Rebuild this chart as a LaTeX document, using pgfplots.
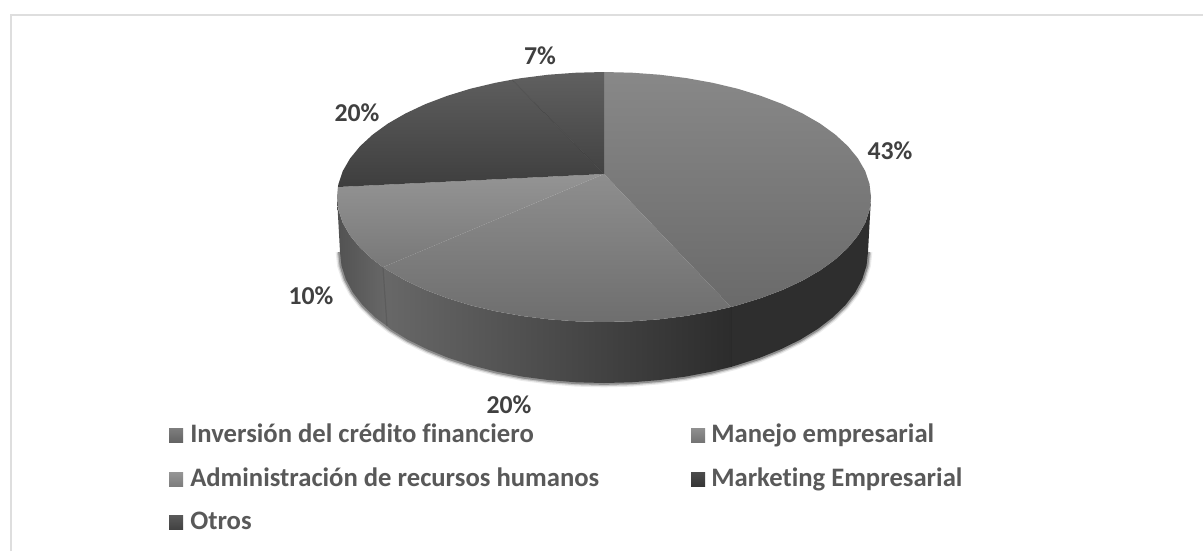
\documentclass[border=0pt]{standalone}
\usepackage{fontspec}
\setmainfont[Ligatures=NoCommon]{Carlito}
\usepackage{pgfplots}
\usepackage{pgfplotstable}
\pgfplotsset{compat=1.18}
\pgfplotstableread{
x y
340 252
341.5 265.7
345.8 279.2
352.9 292.5
362.8 305.3
375.4 317.5
390.4 329
407.8 339.7
427.4 349.3
448.8 358
472 365.4
496.6 371.7
522.4 376.6
549.1 380.1
576.4 382.3
604 383
631.6 382.3
658.9 380.1
685.6 376.6
711.4 371.7
736 365.4
759.2 358
780.6 349.3
800.2 339.7
817.6 329
832.6 317.5
845.2 305.3
855.1 292.5
862.2 279.2
866.5 265.7
868 252
}\bottomarc
\pgfplotstableread{
x y
604 174
604 72
631.9 72.7
659.5 74.7
686.5 78.1
712.6 82.8
737.5 88.7
760.9 95.9
782.6 104.1
802.4 113.4
820 123.5
835.2 134.5
847.9 146.2
857.9 158.4
865.2 171
869.5 183.9
871 197
869.5 210.1
865.2 223
857.9 235.6
847.9 247.8
835.2 259.5
820 270.5
802.4 280.6
782.6 289.9
760.9 298.1
737.5 305.3
731 307
604 174
}\sliceA
\pgfplotstableread{
x y
604 174
731 307
712.6 311.2
686.5 315.9
659.5 319.3
631.9 321.3
604 322
576.1 321.3
548.5 319.3
521.5 315.9
495.4 311.2
470.5 305.3
447.1 298.1
425.4 289.9
405.6 280.6
388 270.5
383 267.2
604 174
}\sliceB
\pgfplotstableread{
x y
604 174
383 267.2
372.8 259.5
360.1 247.8
350.1 235.6
342.8 223
338.5 210.1
337 197
337.9 187
604 174
}\sliceC
\pgfplotstableread{
x y
604 174
337.9 187
338.5 183.9
342.8 171
350.1 158.4
360.1 146.2
372.8 134.5
388 123.5
405.6 113.4
425.4 104.1
447.1 95.9
470.5 88.7
495.4 82.8
512 79.7
604 174
}\sliceD
\pgfplotstableread{
x y
604 174
512 79.7
521.5 78.1
548.5 74.7
576.1 72.7
604 72
604 174
}\sliceE
\pgfplotstableread{
x y
871 197
869.5 210.1
865.2 223
857.9 235.6
847.9 247.8
835.2 259.5
820 270.5
802.4 280.6
782.6 289.9
760.9 298.1
737.5 305.3
731 307
731 366.9
736 365.4
759.2 358
780.6 349.3
800.2 339.7
817.6 329
832.6 317.5
845.2 305.3
855.1 292.5
862.2 279.2
866.5 265.7
868 252
871 197
}\sideA
\pgfplotstableread{
x y
731 307
712.6 311.2
686.5 315.9
659.5 319.3
631.9 321.3
604 322
576.1 321.3
548.5 319.3
521.5 315.9
495.4 311.2
470.5 305.3
447.1 298.1
425.4 289.9
405.6 280.6
388 270.5
383 267.2
387 326
390.4 329
407.8 339.7
427.4 349.3
448.8 358
472 365.4
496.6 371.7
522.4 376.6
549.1 380.1
576.4 382.3
604 383
631.6 382.3
658.9 380.1
685.6 376.6
711.4 371.7
731 366.9
731 307
}\sideB
\pgfplotstableread{
x y
383 267.2
372.8 259.5
360.1 247.8
350.1 235.6
342.8 223
338.5 210.1
337 197
340 252
341.5 265.7
345.8 279.2
352.9 292.5
362.8 305.3
375.4 317.5
387 326
383 267.2
}\sideC
\definecolor{lab}{HTML}{404040}
\definecolor{leg}{HTML}{595959}
\tikzset{
  lbl/.style={font=\fontsize{19.3}{21}\selectfont\bfseries, text=lab, inner sep=0pt, anchor=center},
  lgd/.style={font=\fontsize{20}{22}\selectfont\bfseries, text=leg, inner sep=0pt, anchor=base west},
}
\begin{document}
\begin{tikzpicture}
\begin{axis}[
  scale only axis, width=902.25pt, height=413.25pt,
  xmin=0, xmax=1203, ymin=0, ymax=551, y dir=reverse,
  axis lines=none, clip=true,
  every axis plot/.append style={forget plot},
]
% page and frame
\addplot[draw=none, fill=white] coordinates {(0,0)(1203,0)(1203,551)(0,551)(0,0)};
\addplot[draw={rgb,255:red,222;green,222;blue,222}, line width=1.5pt] coordinates {(10.5,551)(10.5,14.5)(1203,14.5)};
% soft shadow under the rim
\addplot[draw=black, opacity=0.08, line width=6.5pt] table {\bottomarc};
\addplot[draw=black, opacity=0.16, line width=4.6pt] table {\bottomarc};
\addplot[draw=black, opacity=0.28, line width=2.8pt] table {\bottomarc};
% rim
\addplot[draw=none, shade, left color={rgb,255:red,46;green,46;blue,46}, right color={rgb,255:red,46;green,46;blue,46}] table {\sideA};
\addplot[draw=none, shade, left color={rgb,255:red,82;green,82;blue,82}, right color={rgb,255:red,104;green,104;blue,104}] table {\sideC};
\addplot[draw=none, shade, left color={rgb,255:red,104;green,104;blue,104}, right color={rgb,255:red,44;green,44;blue,44}] table {\sideB};
\addplot[draw={rgb,255:red,92;green,92;blue,92}, line width=0.9pt] coordinates {(383,267.2)(387,326)};
\addplot[draw={rgb,255:red,42;green,42;blue,42}, line width=0.7pt] coordinates {(731,307)(731,366.9)};
% top faces
\addplot[draw=none, shade, top color={rgb,255:red,136;green,136;blue,136}, bottom color={rgb,255:red,106;green,106;blue,106}] table {\sliceA};
\addplot[draw=none, shade, top color={rgb,255:red,142;green,142;blue,142}, bottom color={rgb,255:red,110;green,110;blue,110}] table {\sliceB};
\addplot[draw=none, shade, top color={rgb,255:red,148;green,148;blue,148}, bottom color={rgb,255:red,120;green,120;blue,120}] table {\sliceC};
\addplot[draw=none, shade, top color={rgb,255:red,93;green,93;blue,93}, bottom color={rgb,255:red,62;green,62;blue,62}] table {\sliceD};
\addplot[draw=none, shade, top color={rgb,255:red,96;green,96;blue,96}, bottom color={rgb,255:red,66;green,66;blue,66}] table {\sliceE};
% seam between the two dark slices
\addplot[draw={rgb,255:red,56;green,56;blue,56}, opacity=0.6, line width=0.4pt] coordinates {(604,174)(512,79.7)};
% legend swatches
\addplot[draw=none, shade, top color={rgb,255:red,126;green,126;blue,126}, bottom color={rgb,255:red,100;green,100;blue,100}] coordinates {(169,428)(183,428)(183,442)(169,442)(169,428)};
\addplot[draw=none, shade, top color={rgb,255:red,150;green,150;blue,150}, bottom color={rgb,255:red,125;green,125;blue,125}] coordinates {(169,472)(183,472)(183,486)(169,486)(169,472)};
\addplot[draw=none, shade, top color={rgb,255:red,90;green,90;blue,90}, bottom color={rgb,255:red,66;green,66;blue,66}] coordinates {(169,515)(183,515)(183,529)(169,529)(169,515)};
\addplot[draw=none, shade, top color={rgb,255:red,144;green,144;blue,144}, bottom color={rgb,255:red,116;green,116;blue,116}] coordinates {(691,428)(705,428)(705,442)(691,442)(691,428)};
\addplot[draw=none, shade, top color={rgb,255:red,76;green,76;blue,76}, bottom color={rgb,255:red,54;green,54;blue,54}] coordinates {(691,472)(705,472)(705,486)(691,486)(691,472)};
% data labels
\node[lbl] at (axis cs:540,56) {7\%};
\node[lbl] at (axis cs:890,151) {43\%};
\node[lbl] at (axis cs:357,113) {20\%};
\node[lbl] at (axis cs:311,296) {10\%};
\node[lbl] at (axis cs:509,405) {20\%};
% legend text
\node[lgd] at (axis cs:190,442.5) {Inversión del crédito financiero};
\node[lgd] at (axis cs:190,486) {Administración de recursos humanos};
\node[lgd] at (axis cs:190,529) {Otros};
\node[lgd] at (axis cs:711,442.5) {Manejo empresarial};
\node[lgd] at (axis cs:711,486) {Marketing Empresarial};
\end{axis}
\end{tikzpicture}
\end{document}
